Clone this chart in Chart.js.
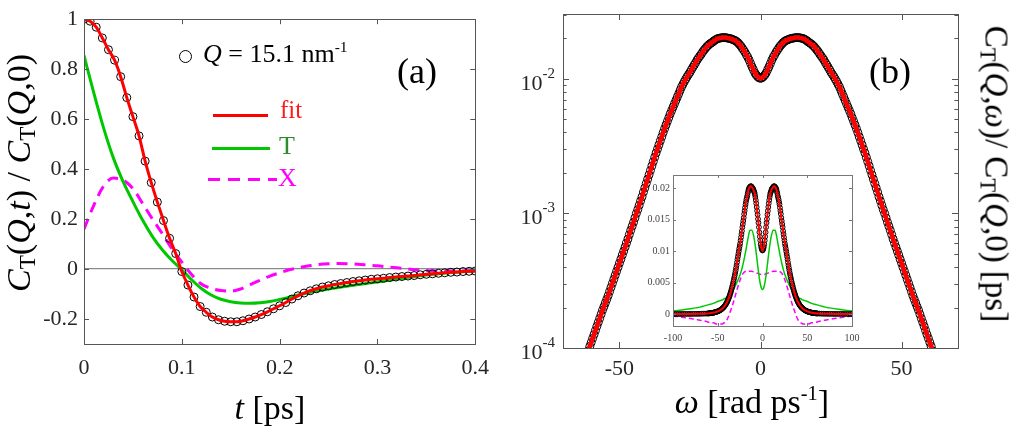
<!DOCTYPE html>
<html>
<head>
<meta charset="utf-8">
<script src="https://cdn.jsdelivr.net/npm/chart.js@4.4.1/dist/chart.umd.min.js"></script>
<style>
  body { margin: 0; background: #fff; font-family: 'Liberation Serif', serif; }
  #wrap { position: relative; width: 1013px; height: 435px; overflow: hidden; }
  canvas { position: absolute; }
  .lbl { position: absolute; white-space: nowrap; line-height: 1; color: #000; }
  .c { transform: translate(-50%, -50%); }
  sub { font-size: 0.68em; vertical-align: -0.22em; line-height: 0; }
  sup { font-size: 0.6em; vertical-align: 0.62em; line-height: 0; }
  .leg { position: absolute; height: 3px; }
</style>
</head>
<body>
<div id="wrap">
  <canvas id="chartA" width="500" height="435" style="left:0;top:0"></canvas>
  <canvas id="chartB" width="513" height="435" style="left:500px;top:0"></canvas>
  <canvas id="chartInset" width="236" height="180" style="left:630px;top:165px"></canvas>

  <!-- panel (a) texts -->
  <div class="lbl c" style="left:19px;top:173px;font-size:34px;transform:translate(-50%,-50%) rotate(-90deg)"><i>C</i><sub>T</sub>(<i>Q</i>,<i>t</i>) / <i>C</i><sub>T</sub>(<i>Q</i>,0)</div>
  <div class="lbl c" style="left:270px;top:408px;font-size:34px"><i>t</i> [ps]</div>
  <div class="lbl" style="left:397px;top:53px;font-size:36px">(a)</div>
  <div style="position:absolute;left:179px;top:50px;width:11px;height:11px;border:1.2px solid #000;border-radius:50%"></div>
  <div class="lbl" style="left:203px;top:41px;font-size:26px"><i>Q</i> = 15.1 nm<sup>-1</sup></div>
  <div class="leg" style="left:213px;top:113.5px;width:55px;background:#ff0000"></div>
  <div class="lbl" style="left:280px;top:97px;font-size:25px;color:#ff1a1a">fit</div>
  <div class="leg" style="left:212px;top:146.5px;width:58px;background:#00c800"></div>
  <div class="lbl" style="left:279px;top:133px;font-size:26px;color:#2e8b2e">T</div>
  <div class="leg" style="left:208px;top:178px;width:69px;background:repeating-linear-gradient(90deg,#ff00ff 0 12px,transparent 12px 20px)"></div>
  <div class="lbl" style="left:278px;top:165px;font-size:26px;color:#ff00ff">X</div>

  <!-- panel (b) texts -->
  <div class="lbl c" style="left:996px;top:174px;font-size:33px;transform:translate(-50%,-50%) rotate(90deg)">C<sub>T</sub>(<i>Q</i>,<i>ω</i>)/ C<sub>T</sub>(<i>Q</i>,0) [ps]</div>
  <div class="lbl c" style="left:752px;top:402px;font-size:34px"><i>ω</i> [rad ps<sup>-1</sup>]</div>
  <div class="lbl" style="left:869px;top:53px;font-size:36px">(b)</div>
</div>

<script>
// ---- panel (a): time domain, normalised C_T(Q,t) ----
const dtA = 0.00625;          // spacing of the data circles [ps]
const dtLine = 0.01;          // spacing of the T and X curves [ps]
const dataA = [1.000, 0.992, 0.968, 0.925, 0.878, 0.836, 0.770, 0.686, 0.610, 0.533,
  0.432, 0.346, 0.268, 0.194, 0.123, 0.062, -0.010, -0.064, -0.112, -0.150,
  -0.173, -0.192, -0.203, -0.209, -0.211, -0.211, -0.207, -0.200, -0.192, -0.182,
  -0.171, -0.159, -0.147, -0.134, -0.120, -0.107, -0.096, -0.087, -0.079, -0.072,
  -0.067, -0.062, -0.058, -0.054, -0.050, -0.047, -0.044, -0.041, -0.039, -0.037,
  -0.034, -0.032, -0.030, -0.028, -0.026, -0.023, -0.021, -0.019, -0.017, -0.015,
  -0.013, -0.012, -0.010, -0.009, -0.008];
const partT_A = [0.855, 0.705, 0.565, 0.445, 0.350, 0.270, 0.195, 0.130, 0.077, 0.034,
  -0.003, -0.043, -0.078, -0.104, -0.121, -0.131, -0.136, -0.137, -0.135, -0.130,
  -0.122, -0.113, -0.103, -0.094, -0.087, -0.080, -0.074, -0.068, -0.062, -0.057,
  -0.052, -0.046, -0.040, -0.034, -0.029, -0.024, -0.020, -0.016, -0.013, -0.010, -0.008];
const partX_A = [0.160, 0.255, 0.332, 0.364, 0.356, 0.322, 0.262, 0.200, 0.142, 0.080,
  0.028, -0.022, -0.060, -0.077, -0.086, -0.088, -0.080, -0.062, -0.045, -0.028,
  -0.015, -0.003, 0.006, 0.013, 0.018, 0.021, 0.022, 0.021, 0.019, 0.016,
  0.013, 0.009, 0.005, 0.001, -0.003, -0.006, -0.008, -0.008, -0.008, -0.007, -0.006];
const xTicksA = [0, 0.1, 0.2, 0.3, 0.4];
const xLabelsA = ['0', '0.1', '0.2', '0.3', '0.4'];
const yTicksA = [-0.2, 0, 0.2, 0.4, 0.6, 0.8, 1];
const yLabelsA = ['-0.2', '0', '0.2', '0.4', '0.6', '0.8', '1'];

// ---- panel (b): spectrum, symmetric in omega (values for omega = 0, 0.5, ... 61) ----
const dwSpec = 0.5;
const specVal = [0.0101, 0.0102, 0.0104, 0.0107, 0.0111, 0.0117, 0.0123, 0.0130, 0.0138, 0.0145,
  0.0151, 0.0158, 0.0164, 0.0170, 0.0176, 0.0181, 0.0186, 0.0190, 0.0193, 0.0195,
  0.0197, 0.0199, 0.0200, 0.0201, 0.0202, 0.0203, 0.0203, 0.0203, 0.0202, 0.0201,
  0.0200, 0.0198, 0.0195, 0.0192, 0.0188, 0.0185, 0.0182, 0.0178, 0.0174, 0.0169,
  0.0164, 0.0159, 0.0153, 0.0148, 0.0143, 0.0138, 0.0132, 0.0127, 0.0122, 0.0117,
  0.0112, 0.0108, 0.0104, 0.00998, 0.00955, 0.00912, 0.00871, 0.00822, 0.00776, 0.00733,
  0.00692, 0.00653, 0.00617, 0.00583, 0.00550, 0.00516, 0.00484, 0.00455, 0.00427, 0.00399,
  0.00372, 0.00347, 0.00324, 0.00302, 0.00282, 0.00262, 0.00243, 0.00226, 0.00209, 0.00194,
  0.00180, 0.00167, 0.00155, 0.00144, 0.00133, 0.00124, 0.00115, 0.00107, 0.00100, 0.000928,
  0.000861, 0.000804, 0.000750, 0.000696, 0.000646, 0.000602, 0.000562, 0.000525, 0.000490, 0.000457,
  0.000427, 0.000398, 0.000372, 0.000347, 0.000324, 0.000302, 0.000282, 0.000263, 0.000245, 0.000230,
  0.000216, 0.000203, 0.000191, 0.000178, 0.000166, 0.000155, 0.000145, 0.000135, 0.000126, 0.000118,
  0.000110, 0.000103, 0.0000955];
const tailW = [62, 64, 66, 68, 70, 72, 74, 76, 78, 80, 82, 84, 86, 88, 90, 92, 94, 96, 98, 100];
const tailVal = [0.00008, 0.00007, 0.00006, 0.00005, 0.00004, 0.00004, 0.00003, 0.00003, 0.00003, 0.00002,
  0.00002, 0.00002, 0.00002, 0.00002, 0.00001, 0.00001, 0.00001, 0.00001, 0.00001, 0.00001];
const xTicksB = [-50, 0, 50];
const logTicksB = [1e-4, 2e-4, 3e-4, 4e-4, 5e-4, 6e-4, 7e-4, 8e-4, 9e-4,
  1e-3, 2e-3, 3e-3, 4e-3, 5e-3, 6e-3, 7e-3, 8e-3, 9e-3, 1e-2, 2e-2, 3e-2];
const logMajorB = [1e-4, 1e-3, 1e-2];
const logExpB = ['-4', '-3', '-2'];

// ---- inset: linear scale, T and X parts (omega >= 0) ----
const insetW = [0, 2, 4, 6, 8, 10, 12, 14, 16, 18, 20, 22, 24, 26, 28, 30, 32, 34, 36, 38, 40,
  42, 44, 46, 48, 50, 55, 60, 65, 70, 75, 80, 85, 90, 95, 100];
const insetT = [0.0039, 0.0045, 0.0062, 0.0085, 0.0108, 0.0125, 0.0133, 0.0133, 0.0122, 0.0106,
  0.0091, 0.0078, 0.0067, 0.0059, 0.0052, 0.0046, 0.0040, 0.0035, 0.0031, 0.0028,
  0.0026, 0.0025, 0.0023, 0.0022, 0.0021, 0.0020, 0.0017, 0.0015, 0.0013, 0.0011,
  0.00098, 0.00086, 0.00075, 0.00065, 0.00056, 0.00048];
const insetX = [0.0063, 0.0063, 0.0064, 0.0065, 0.0066, 0.0067, 0.0068, 0.0068, 0.0068, 0.0068,
  0.0067, 0.0064, 0.0058, 0.0050, 0.0041, 0.0031, 0.0021, 0.0012, 0.0004, -0.0004,
  -0.0010, -0.0013, -0.0015, -0.0016, -0.0016, -0.0016, -0.0014, -0.0013, -0.0011, -0.00097,
  -0.00085, -0.00072, -0.00060, -0.00050, -0.00040, -0.00033];
const xTicksIn = [-100, -50, 0, 50, 100];
const yTicksIn = [0, 0.005, 0.01, 0.015, 0.02];
const yLabelsIn = ['0', '0.005', '0.01', '0.015', '0.02'];

const SERIF = "'Liberation Serif', serif";
const AXIS = '#262626';

const pts = (step, vals) => vals.map((v, i) => ({ x: i * step, y: v }));
const mirror = (w, v) => {
  const out = [];
  for (let i = w.length - 1; i > 0; i--) out.push({ x: -w[i], y: v[i] });
  for (let i = 0; i < w.length; i++) out.push({ x: w[i], y: v[i] });
  return out;
};
const setTicks = list => axis => { axis.ticks = list.map(v => ({ value: v })); };
const isMajorLog = v => Math.abs(Math.log10(v) - Math.round(Math.log10(v))) < 1e-6;
const specW = specVal.map((_, i) => i * dwSpec);

// box round the plot with inward ticks on all four sides (matlab look)
const framePlugin = {
  id: 'frame',
  afterDatasetsDraw(chart, args, opts) {
    const { ctx, chartArea: a, scales } = chart;
    const len = opts.len || 5;
    ctx.save();
    ctx.strokeStyle = opts.color || '#555';
    ctx.lineWidth = 1;
    ctx.beginPath();
    scales.x.ticks.forEach(t => {
      const px = Math.round(scales.x.getPixelForValue(t.value)) + 0.5;
      ctx.moveTo(px, a.bottom); ctx.lineTo(px, a.bottom - len);
      ctx.moveTo(px, a.top); ctx.lineTo(px, a.top + len);
    });
    scales.y.ticks.forEach(t => {
      const l = (opts.log && !isMajorLog(t.value)) ? len * 0.6 : len;
      const py = Math.round(scales.y.getPixelForValue(t.value)) + 0.5;
      ctx.moveTo(a.left, py); ctx.lineTo(a.left + l, py);
      ctx.moveTo(a.right, py); ctx.lineTo(a.right - l, py);
    });
    ctx.stroke();
    ctx.strokeRect(Math.round(a.left) + 0.5, Math.round(a.top) + 0.5,
      Math.round(a.width), Math.round(a.height));
    ctx.restore();
  }
};

// 10^n labels for the log axis of panel (b)
const logLabelPlugin = {
  id: 'logLabels',
  afterDraw(chart) {
    const { ctx } = chart;
    const y = chart.scales.y;
    const right = chart.chartArea.left - 8;
    ctx.save();
    ctx.fillStyle = AXIS;
    ctx.textAlign = 'right';
    ctx.textBaseline = 'alphabetic';
    logMajorB.forEach((v, i) => {
      const py = y.getPixelForValue(v);
      ctx.font = '15px ' + SERIF;
      const w = ctx.measureText(logExpB[i]).width;
      ctx.fillText(logExpB[i], right, py - 1);
      ctx.font = '22px ' + SERIF;
      ctx.fillText('10', right - w, py + 11);
    });
    ctx.restore();
  }
};

Chart.defaults.animation = false;
Chart.defaults.font.family = SERIF;

const noGrid = { display: false, drawTicks: false };

// ---------- panel (a) ----------
new Chart(document.getElementById('chartA'), {
  type: 'scatter',
  data: {
    datasets: [
      { label: 'fit', data: pts(dtA, dataA), showLine: true, borderColor: '#ff0000',
        borderWidth: 3, pointRadius: 0, cubicInterpolationMode: 'monotone' },
      { label: 'data', data: pts(dtA, dataA), showLine: false, pointRadius: 4,
        pointBorderColor: '#000', pointBorderWidth: 1, pointBackgroundColor: 'rgba(0,0,0,0)' },
      { label: 'T', data: pts(dtLine, partT_A), showLine: true, borderColor: '#00c800',
        borderWidth: 3, pointRadius: 0, cubicInterpolationMode: 'monotone' },
      { label: 'X', data: pts(dtLine, partX_A), showLine: true, borderColor: '#ff00ff',
        borderWidth: 3, borderDash: [11, 7], pointRadius: 0, cubicInterpolationMode: 'monotone' }
    ]
  },
  options: {
    responsive: false,
    layout: { padding: { top: 14, right: 21, left: 0, bottom: 0 } },
    plugins: { legend: { display: false }, tooltip: { enabled: false }, frame: { len: 5 } },
    scales: {
      x: {
        type: 'linear', min: 0, max: 0.4,
        afterBuildTicks: setTicks(xTicksA),
        afterFit: s => { s.height = 91; },
        grid: noGrid, border: { display: false },
        ticks: { autoSkip: false, maxRotation: 0, padding: 11, color: AXIS,
          font: { size: 22 }, callback: (v, i) => xLabelsA[i] }
      },
      y: {
        type: 'linear', min: -0.3, max: 1,
        afterBuildTicks: setTicks(yTicksA),
        afterFit: s => { s.width = 84; },
        grid: { drawTicks: false, lineWidth: 1.2,
          color: c => (c.tick && c.tick.value === 0) ? '#8a8a8a' : 'rgba(0,0,0,0)' },
        border: { display: false },
        ticks: { autoSkip: false, padding: 6, color: AXIS,
          font: { size: 22 }, callback: (v, i) => yLabelsA[i] }
      }
    }
  },
  plugins: [framePlugin]
});

// ---------- panel (b) ----------
const specPts = mirror(specW, specVal);
new Chart(document.getElementById('chartB'), {
  type: 'scatter',
  data: {
    datasets: [
      { label: 'fit', data: specPts, showLine: true, borderColor: '#ff0000',
        borderWidth: 4.5, pointRadius: 0, cubicInterpolationMode: 'monotone' },
      { label: 'data', data: specPts, showLine: false, pointRadius: 4,
        pointBorderColor: '#000', pointBorderWidth: 1, pointBackgroundColor: 'rgba(0,0,0,0)' }
    ]
  },
  options: {
    responsive: false,
    layout: { padding: { top: 14, right: 55, left: 0, bottom: 0 } },
    plugins: { legend: { display: false }, tooltip: { enabled: false }, frame: { len: 6, log: true } },
    scales: {
      x: {
        type: 'linear', min: -70, max: 70,
        afterBuildTicks: setTicks(xTicksB),
        afterFit: s => { s.height = 87; },
        grid: noGrid, border: { display: false },
        ticks: { autoSkip: false, maxRotation: 0, padding: 8, color: AXIS, font: { size: 22 } }
      },
      y: {
        type: 'logarithmic', min: 1e-4, max: 0.0304,
        afterBuildTicks: setTicks(logTicksB),
        afterFit: s => { s.width = 63; },
        grid: noGrid, border: { display: false },
        ticks: { display: false }
      }
    }
  },
  plugins: [framePlugin, logLabelPlugin]
});

// ---------- inset (linear scale) ----------
const insetData = mirror(specW.concat(tailW), specVal.concat(tailVal));
new Chart(document.getElementById('chartInset'), {
  type: 'scatter',
  data: {
    datasets: [
      { label: 'fit', data: insetData, showLine: true, borderColor: '#ff0000',
        borderWidth: 2, pointRadius: 0, cubicInterpolationMode: 'monotone' },
      { label: 'data', data: insetData, showLine: false, pointRadius: 2.4,
        pointBorderColor: '#000', pointBorderWidth: 1, pointBackgroundColor: 'rgba(0,0,0,0)' },
      { label: 'T', data: mirror(insetW, insetT), showLine: true, borderColor: '#00c800',
        borderWidth: 1.5, pointRadius: 0, cubicInterpolationMode: 'monotone' },
      { label: 'X', data: mirror(insetW, insetX), showLine: true, borderColor: '#ff00ff',
        borderWidth: 1.5, borderDash: [5, 3], pointRadius: 0, cubicInterpolationMode: 'monotone' }
    ]
  },
  options: {
    responsive: false,
    layout: { padding: { top: 10, right: 14, left: 0, bottom: 0 } },
    plugins: { legend: { display: false }, tooltip: { enabled: false }, frame: { len: 3, color: '#777' } },
    scales: {
      x: {
        type: 'linear', min: -100, max: 100,
        afterBuildTicks: setTicks(xTicksIn),
        afterFit: s => { s.height = 19; },
        grid: noGrid, border: { display: false },
        ticks: { autoSkip: false, maxRotation: 0, padding: 6, color: '#444', font: { size: 10 } }
      },
      y: {
        type: 'linear', min: -0.0019, max: 0.0221,
        afterBuildTicks: setTicks(yTicksIn),
        afterFit: s => { s.width = 43; },
        grid: noGrid, border: { display: false },
        ticks: { autoSkip: false, padding: 3, color: '#444', font: { size: 10 },
          callback: (v, i) => yLabelsIn[i] }
      }
    }
  },
  plugins: [framePlugin]
});
</script>
</body>
</html>
